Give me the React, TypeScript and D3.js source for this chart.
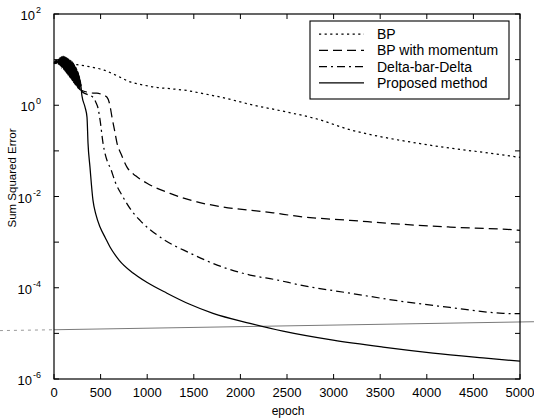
import React from "react";
import * as d3 from "d3";

// ---------- data ----------
const xTicks = [0, 500, 1000, 1500, 2000, 2500, 3000, 3500, 4000, 4500, 5000];
const yTickExps = [-6, -5, -4, -3, -2, -1, 0, 1, 2];
const yLabelExps = [-6, -4, -2, 0, 2];

const legendLabels = ["BP", "BP with momentum", "Delta-bar-Delta", "Proposed method"];

const earlyEpochs = [0, 8, 14, 20, 26, 32, 40, 46, 52, 58, 64, 70, 76, 82, 88, 94, 100, 106, 112, 118, 124, 130, 136, 142, 148, 154, 160, 166, 172, 178, 184, 190, 196, 202, 208, 214, 220, 226, 232, 238, 244, 250, 256, 262, 268, 274, 280];

const proposedEarly = [8.6, 8.9, 8.3, 9.6, 8.4, 9.1, 9.2, 8.0, 10.1, 7.8, 10.6, 7.4, 11.2, 7.0, 11.8, 6.7, 12.0, 6.3, 11.6, 5.9, 11.3, 5.5, 11.0, 5.0, 10.6, 4.6, 10.2, 4.3, 9.8, 4.0, 9.4, 3.7, 9.0, 3.4, 8.4, 3.1, 7.7, 2.9, 7.0, 2.7, 6.3, 2.5, 5.5, 2.3, 4.6, 2.2, 3.6];
const momentumEarly = [8.4, 8.6, 9.4, 8.2, 8.8, 9.9, 8.3, 9.8, 7.9, 10.4, 7.6, 11.0, 7.1, 11.5, 6.8, 11.9, 6.4, 11.7, 6.0, 11.4, 5.6, 11.0, 5.2, 10.7, 4.8, 10.3, 4.4, 9.9, 4.1, 9.5, 3.8, 9.1, 3.5, 8.6, 3.2, 8.0, 3.0, 7.3, 2.8, 6.6, 2.6, 5.9, 2.4, 5.1, 2.3, 4.2, 2.2];
const dbdEarly = [8.5, 8.2, 9.0, 8.6, 9.5, 8.3, 9.6, 7.7, 10.3, 7.3, 10.9, 7.0, 11.4, 6.6, 11.0, 6.2, 11.6, 6.0, 11.2, 5.7, 10.8, 5.3, 10.4, 4.9, 10.0, 4.5, 9.6, 4.2, 9.2, 3.9, 8.8, 3.6, 8.3, 3.3, 7.8, 3.1, 7.1, 2.9, 6.4, 2.7, 5.7, 2.6, 5.0, 2.4, 4.3, 2.3, 3.4];

const proposedLateEpochs = [300, 333, 354, 365, 386, 418, 450, 494, 550, 601, 700, 848, 1000, 1212, 1450, 1706, 2103, 2457, 2994, 3530, 4067, 4603, 5000];
const proposedLate = [1.6, 0.91, 0.55, 0.148, 0.044, 0.0083, 0.004, 0.00214, 0.00125, 7.8e-4, 4.0e-4, 2.1e-4, 1.3e-4, 7.6e-5, 4.4e-5, 2.75e-5, 1.66e-5, 1.12e-5, 7.1e-6, 5.0e-6, 3.7e-6, 2.9e-6, 2.45e-6];

const momentumLateEpochs = [300, 350, 420, 460, 520, 569, 600, 622, 650, 676, 720, 783, 880, 998, 1245, 1534, 1813, 2350, 2607, 3176, 3895, 4249, 4861, 5000];
const momentumLate = [2.1, 1.95, 1.85, 1.85, 1.7, 1.5, 1.0, 0.55, 0.28, 0.148, 0.085, 0.044, 0.028, 0.0195, 0.0117, 0.0076, 0.0059, 0.0044, 0.0037, 0.003, 0.00234, 0.00214, 0.0019, 0.00182];

const dbdLateEpochs = [300, 350, 418, 450, 472, 494, 526, 579, 601, 660, 740, 823, 923, 1137, 1459, 1813, 2103, 2393, 2640, 3176, 3712, 4249, 4818, 5000];
const dbdLate = [2.0, 1.75, 1.5, 1.15, 0.87, 0.48, 0.148, 0.054, 0.044, 0.02, 0.0098, 0.0052, 0.003, 0.00129, 5.75e-4, 2.82e-4, 1.9e-4, 1.48e-4, 1.15e-4, 7.6e-5, 5.1e-5, 3.7e-5, 2.75e-5, 2.7e-5];

const bpEpochs = [0, 100, 215, 380, 536, 680, 826, 950, 1073, 1250, 1427, 1600, 1792, 2146, 2500, 2822, 3176, 3530, 3895, 4249, 4603, 5000];
const bpValues = [8.6, 8.5, 7.9, 7.0, 5.9, 4.4, 3.2, 2.8, 2.5, 2.3, 2.1, 1.8, 1.5, 1.0, 0.71, 0.5, 0.29, 0.2, 0.148, 0.115, 0.093, 0.072];

// scan artifact: faint horizontal line across the figure
const artifactEpochs = [-580, 0, 5150];
const artifactValues = [1.15e-5, 1.2e-5, 1.8e-5];

// ---------- layout ----------
const W = 534, H = 420;
const L = 54, R = 520, T = 14, B = 379;
const FONT = "Arial, 'Liberation Sans', Helvetica, sans-serif";

const x = d3.scaleLinear().domain([0, 5000]).range([L, R]);
const y = d3.scaleLog().domain([1e-6, 1e2]).range([B, T]);

type P = [number, number];
const zip = (a: number[], b: number[]): P[] => a.map((v, i) => [v, b[i]] as P);

const lineGen = d3
  .line<P>()
  .x((d) => x(d[0]))
  .y((d) => y(d[1]))
  .curve(d3.curveMonotoneX);
const straight = d3
  .line<P>()
  .x((d) => x(d[0]))
  .y((d) => y(d[1]));

const series = [
  { pts: zip(bpEpochs, bpValues), dash: "2.2,3.4" },
  { pts: zip(earlyEpochs, momentumEarly).concat(zip(momentumLateEpochs, momentumLate)), dash: "9,5" },
  { pts: zip(earlyEpochs, dbdEarly).concat(zip(dbdLateEpochs, dbdLate)), dash: "8,4,2,4" },
  { pts: zip(earlyEpochs, proposedEarly).concat(zip(proposedLateEpochs, proposedLate)), dash: "none" },
];

export default function App() {
  const art = zip(artifactEpochs, artifactValues);
  const legendTop = 34;
  const legendStep = 16.3;
  return (
    <svg
      width={W}
      height={H}
      style={{ position: "absolute", left: 0, top: 0, background: "#fff" }}
      fontFamily={FONT}
    >
      <rect x={0} y={0} width={W} height={H} fill="#fff" />
      {/* artifact line */}
      <path d={straight([art[0], art[1]]) || ""} stroke="#9a9a9a" strokeWidth={1} strokeDasharray="3,4" fill="none" />
      <path d={straight([art[1], art[2]]) || ""} stroke="#7a7a7a" strokeWidth={1} fill="none" />

      {/* series */}
      {series.map((s, i) => (
        <path
          key={i}
          d={lineGen(s.pts) || ""}
          fill="none"
          stroke="#000"
          strokeWidth={1.25}
          strokeDasharray={s.dash}
        />
      ))}

      {/* frame */}
      <rect x={L} y={T} width={R - L} height={B - T} fill="none" stroke="#000" strokeWidth={1.2} />

      {/* x ticks */}
      {xTicks.map((t) => (
        <g key={"x" + t}>
          <line x1={x(t)} x2={x(t)} y1={B} y2={B - 5} stroke="#000" />
          <line x1={x(t)} x2={x(t)} y1={T} y2={T + 5} stroke="#000" />
          <text x={x(t)} y={397} fontSize={13} textAnchor="middle" fill="#000">
            {t}
          </text>
        </g>
      ))}
      {/* y ticks */}
      {yTickExps.map((e) => (
        <g key={"y" + e}>
          <line x1={L} x2={L + 5} y1={y(Math.pow(10, e))} y2={y(Math.pow(10, e))} stroke="#000" />
          <line x1={R} x2={R - 5} y1={y(Math.pow(10, e))} y2={y(Math.pow(10, e))} stroke="#000" />
        </g>
      ))}
      {yLabelExps.map((e) => (
        <text key={"yl" + e} x={41} y={y(Math.pow(10, e)) + 6} fontSize={13} textAnchor="end" fill="#000">
          10
          <tspan dx={1} dy={-7} fontSize={9}>
            {e}
          </tspan>
        </text>
      ))}

      {/* axis titles */}
      <text x={288} y={415} fontSize={12} textAnchor="middle">
        epoch
      </text>
      <text transform="translate(16,178) rotate(-90)" fontSize={11.5} textAnchor="middle">
        Sum Squared Error
      </text>

      {/* legend */}
      <rect x={310} y={21} width={199} height={78} fill="#fff" stroke="#000" strokeWidth={1.1} />
      {legendLabels.map((lab, i) => {
        const ly = legendTop + i * legendStep;
        return (
          <g key={lab}>
            <line x1={319} x2={364} y1={ly} y2={ly} stroke="#000" strokeWidth={1.25} strokeDasharray={series[i].dash} />
            <text x={377} y={ly + 5} fontSize={14} fill="#000">
              {lab}
            </text>
          </g>
        );
      })}
    </svg>
  );
}
